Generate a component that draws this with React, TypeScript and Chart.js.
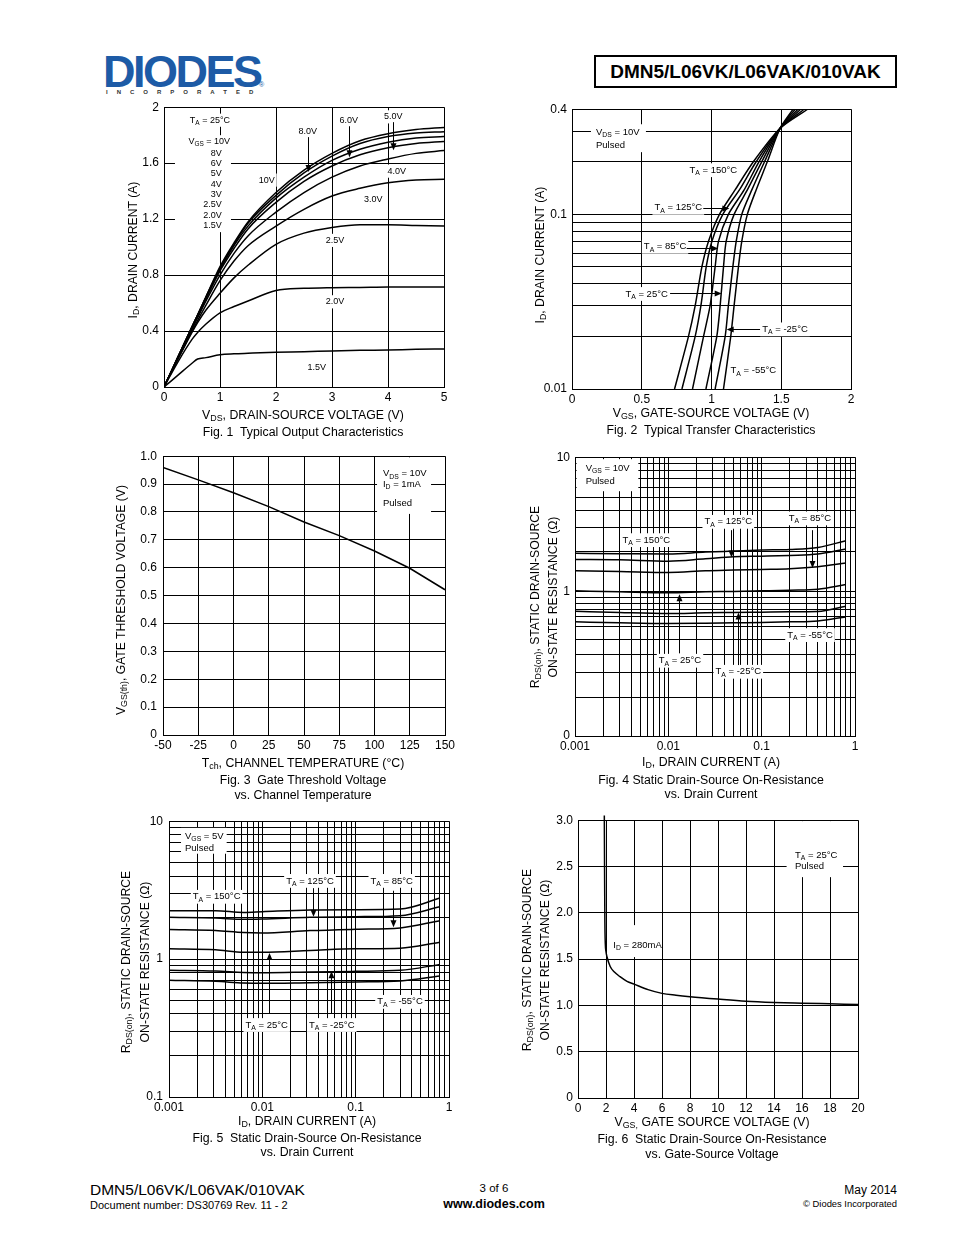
import React, { useEffect, useRef } from 'react';
import { Chart, registerables } from 'chart.js';

Chart.register(...registerables);

const FONT = '"Liberation Sans", Arial, Helvetica, sans-serif';
Chart.defaults.font.family = FONT;

// ---------------- Fig. 1 Typical Output Characteristics ----------------
const FIG1_VDS = [0, 0.25, 0.5, 0.6, 0.75, 1, 1.25, 1.5, 2, 2.5, 3, 3.5, 4, 4.5, 5];
const FIG1_ID_VGS10 = [0, 0.215, 0.43, 0.515, 0.645, 0.86, 1.03, 1.18, 1.39, 1.55, 1.67, 1.76, 1.81, 1.84, 1.855];
const FIG1_ID_VGS8 = [0, 0.215, 0.43, 0.515, 0.645, 0.85, 1.02, 1.17, 1.37, 1.53, 1.65, 1.74, 1.79, 1.815, 1.825];
const FIG1_ID_VGS6 = [0, 0.215, 0.43, 0.515, 0.64, 0.84, 1.01, 1.15, 1.35, 1.5, 1.62, 1.7, 1.75, 1.78, 1.79];
const FIG1_ID_VGS5 = [0, 0.21, 0.42, 0.505, 0.63, 0.83, 0.99, 1.13, 1.32, 1.47, 1.58, 1.66, 1.71, 1.74, 1.755];
const FIG1_ID_VGS4 = [0, 0.21, 0.415, 0.495, 0.615, 0.8, 0.955, 1.08, 1.25, 1.39, 1.5, 1.58, 1.63, 1.67, 1.69];
const FIG1_ID_VGS3 = [0, 0.2, 0.4, 0.475, 0.585, 0.76, 0.9, 1.01, 1.15, 1.27, 1.365, 1.42, 1.46, 1.48, 1.485];
const FIG1_ID_VGS25 = [0, 0.2, 0.39, 0.46, 0.55, 0.67, 0.78, 0.87, 1.02, 1.1, 1.14, 1.16, 1.16, 1.155, 1.15];
const FIG1_ID_VGS20 = [0, 0.18, 0.34, 0.39, 0.45, 0.53, 0.575, 0.615, 0.69, 0.705, 0.71, 0.712, 0.715, 0.715, 0.715];
const FIG1_ID_VGS15 = [0, 0.085, 0.17, 0.2, 0.21, 0.23, 0.237, 0.241, 0.248, 0.252, 0.258, 0.262, 0.265, 0.269, 0.272];
const FIG1_X_TICKS = [0, 1, 2, 3, 4, 5];
const FIG1_X_LABELS = ['0', '1', '2', '3', '4', '5'];
const FIG1_Y_TICKS = [0, 0.4, 0.8, 1.2, 1.6, 2];
const FIG1_Y_LABELS = ['0', '0.4', '0.8', '1.2', '1.6', '2'];
const FIG1_LIST = ['8V', '6V', '5V', '4V', '3V', '2.5V', '2.0V', '1.5V'];
const FIG1_LIST_Y = [1.668, 1.596, 1.523, 1.449, 1.376, 1.302, 1.229, 1.155];

// ---------------- Fig. 2 Typical Transfer Characteristics ----------------
const FIG2_ID = [0.01, 0.02, 0.03, 0.05, 0.07, 0.1, 0.138, 0.2, 0.311, 0.4];
const FIG2_VGS_150 = [0.735, 0.835, 0.883, 0.931, 0.978, 1.057, 1.169, 1.3, 1.492, 1.69];
const FIG2_VGS_125 = [0.788, 0.883, 0.924, 0.962, 1.0025, 1.081, 1.2, 1.32, 1.492, 1.665];
const FIG2_VGS_85 = [0.864, 0.943, 0.99, 1.026, 1.05, 1.121, 1.234, 1.34, 1.492, 1.64];
const FIG2_VGS_25 = [0.96, 1.038, 1.062, 1.086, 1.105, 1.162, 1.257, 1.36, 1.492, 1.62];
const FIG2_VGS_M25 = [1.026, 1.098, 1.121, 1.153, 1.177, 1.217, 1.289, 1.38, 1.492, 1.6];
const FIG2_VGS_M55 = [1.086, 1.138, 1.162, 1.193, 1.217, 1.257, 1.32, 1.4, 1.492, 1.585];
const FIG2_X_TICKS = [0, 0.5, 1, 1.5, 2];
const FIG2_X_LABELS = ['0', '0.5', '1', '1.5', '2'];
const FIG2_Y_GRID = [0.01, 0.02, 0.03, 0.04, 0.05, 0.06, 0.07, 0.08, 0.09, 0.1, 0.2, 0.3, 0.4];
const FIG2_Y_LABELED: [number, string][] = [[0.01, '0.01'], [0.1, '0.1'], [0.4, '0.4']];

// ---------------- Fig. 3 Gate Threshold Voltage ----------------
const FIG3_TCH = [-50, -25, 0, 25, 50, 75, 100, 125, 150];
const FIG3_VTH = [0.96, 0.915, 0.869, 0.819, 0.764, 0.715, 0.66, 0.598, 0.521];
const FIG3_X_TICKS = [-50, -25, 0, 25, 50, 75, 100, 125, 150];
const FIG3_X_LABELS = ['-50', '-25', '0', '25', '50', '75', '100', '125', '150'];
const FIG3_Y_TICKS = [0, 0.1, 0.2, 0.3, 0.4, 0.5, 0.6, 0.7, 0.8, 0.9, 1];
const FIG3_Y_LABELS = ['0', '0.1', '0.2', '0.3', '0.4', '0.5', '0.6', '0.7', '0.8', '0.9', '1.0'];

// ---------------- Fig. 4 RDS(on) vs ID, VGS = 10V ----------------
const FIG4_ID = [0.001, 0.003, 0.01, 0.025, 0.05, 0.1, 0.2, 0.4, 0.8];
const FIG4_R_150 = [1.93, 1.918, 1.907, 1.973, 2.007, 2.042, 2.066, 2.137, 2.397];
const FIG4_R_125 = [1.74, 1.73, 1.69, 1.76, 1.82, 1.84, 1.865, 1.907, 2.08];
const FIG4_R_85 = [1.433, 1.417, 1.393, 1.433, 1.45, 1.466, 1.483, 1.535, 1.64];
const FIG4_R_25 = [1.017, 1.0, 0.983, 1.0, 1.006, 1.017, 1.029, 1.047, 1.134];
const FIG4_R_M25 = [0.718, 0.702, 0.69, 0.698, 0.702, 0.706, 0.71, 0.714, 0.782];
const FIG4_R_M55 = [0.598, 0.588, 0.581, 0.584, 0.588, 0.591, 0.598, 0.608, 0.651];
const FIG4_Y_MIN = 0.0849;
const FIG4_Y_GRID = [0.0849, 0.165, 0.25, 0.345, 0.44, 0.555, 0.65, 0.745, 0.825, 0.915, 1, 2, 3, 4, 5, 6, 7, 8, 9, 10];
const FIG4_Y_LABELED: [number, string][] = [[0.0849, '0'], [1, '1'], [10, '10']];

// ---------------- Fig. 5 RDS(on) vs ID, VGS = 5V ----------------
const FIG5_ID = [0.001, 0.00315, 0.0063, 0.01, 0.0324, 0.1, 0.3, 0.8];
const FIG5_R_150 = [2.244, 2.244, 2.18, 2.206, 2.27, 2.28, 2.306, 2.77];
const FIG5_R_125 = [2.009, 1.986, 1.943, 1.954, 2.009, 2.031, 2.065, 2.397];
const FIG5_R_85 = [1.636, 1.609, 1.557, 1.548, 1.609, 1.645, 1.683, 1.9];
const FIG5_R_25 = [1.187, 1.168, 1.123, 1.123, 1.155, 1.187, 1.2, 1.326];
const FIG5_R_M25 = [0.829, 0.819, 0.801, 0.797, 0.806, 0.815, 0.829, 0.915];
const FIG5_R_M55 = [0.702, 0.69, 0.671, 0.667, 0.675, 0.683, 0.694, 0.754];
const FIG5_Y_GRID = [0.1, 0.2, 0.3, 0.4, 0.5, 0.6, 0.7, 0.8, 0.9, 1, 2, 3, 4, 5, 6, 7, 8, 9, 10];
const FIG5_Y_LABELED: [number, string][] = [[0.1, '0.1'], [1, '1'], [10, '10']];

// shared log x axis for Fig. 4 and Fig. 5
const FIG45_X_GRID = [
  0.001, 0.002, 0.003, 0.004, 0.005, 0.006, 0.007, 0.008, 0.009,
  0.01, 0.02, 0.03, 0.04, 0.05, 0.06, 0.07, 0.08, 0.09,
  0.1, 0.2, 0.3, 0.4, 0.5, 0.6, 0.7, 0.8, 0.9, 1,
];
const FIG45_X_LABELED: [number, string][] = [[0.001, '0.001'], [0.01, '0.01'], [0.1, '0.1'], [1, '1']];

// ---------------- Fig. 6 RDS(on) vs VGS ----------------
const FIG6_VGS = [1.88, 1.9, 1.92, 1.95, 2.0, 2.07, 2.3, 2.6, 3, 3.5, 4, 5, 6, 7, 8, 10, 12, 14, 16, 18, 20];
const FIG6_R = [3.05, 2.4, 1.9, 1.67, 1.58, 1.525, 1.42, 1.36, 1.31, 1.26, 1.23, 1.17, 1.13, 1.11, 1.094, 1.068, 1.045, 1.032, 1.024, 1.017, 1.01];
const FIG6_X_TICKS = [0, 2, 4, 6, 8, 10, 12, 14, 16, 18, 20];
const FIG6_X_LABELS = ['0', '2', '4', '6', '8', '10', '12', '14', '16', '18', '20'];
const FIG6_Y_TICKS = [0, 0.5, 1, 1.5, 2, 2.5, 3];
const FIG6_Y_LABELS = ['0', '0.5', '1.0', '1.5', '2.0', '2.5', '3.0'];

// ---------------- annotations (data coordinates) ----------------
type Note =
  | { t: 'text'; x: number; y: number; s: string; align?: 'left' | 'right' | 'center'; bg?: boolean }
  | { t: 'box'; x1: number; y1: number; x2: number; y2: number }
  | { t: 'arrow'; x1: number; y1: number; x2: number; y2: number };

const FIG1_NOTES: Note[] = [
  { t: 'text', x: 1.179, y: 1.907, s: 'T_{A} = 25°C', align: 'right', bg: true },
  { t: 'box', x1: 0.196, y1: 1.107, x2: 1.196, y2: 1.8 },
  { t: 'text', x: 1.179, y: 1.757, s: 'V_{GS} = 10V', align: 'right' },
  ...FIG1_LIST.map((s, i) => ({ t: 'text' as const, x: 1.03, y: FIG1_LIST_Y[i], s, align: 'right' as const })),
  { t: 'text', x: 1.834, y: 1.479, s: '10V', bg: true },
  { t: 'text', x: 2.566, y: 1.824, s: '8.0V', bg: true },
  { t: 'arrow', x1: 2.566, y1: 1.786, x2: 2.566, y2: 1.536 },
  { t: 'text', x: 3.298, y: 1.902, s: '6.0V', bg: true },
  { t: 'arrow', x1: 3.298, y1: 1.864, x2: 3.298, y2: 1.643 },
  { t: 'text', x: 4.095, y: 1.931, s: '5.0V', bg: true },
  { t: 'arrow', x1: 4.095, y1: 1.893, x2: 4.095, y2: 1.693 },
  { t: 'text', x: 4.155, y: 1.543, s: '4.0V', bg: true },
  { t: 'text', x: 3.738, y: 1.343, s: '3.0V', bg: true },
  { t: 'text', x: 3.054, y: 1.048, s: '2.5V', bg: true },
  { t: 'text', x: 3.054, y: 0.609, s: '2.0V', bg: true },
  { t: 'text', x: 2.727, y: 0.138, s: '1.5V', bg: true },
];

const FIG2_NOTES: Note[] = [
  { t: 'box', x1: 0.136, y1: 0.227, x2: 0.53, y2: 0.328 },
  { t: 'text', x: 0.172, y: 0.294, s: 'V_{DS} = 10V', align: 'left' },
  { t: 'text', x: 0.172, y: 0.249, s: 'Pulsed', align: 'left' },
  { t: 'text', x: 1.013, y: 0.179, s: 'T_{A} = 150°C', bg: true },
  { t: 'text', x: 0.762, y: 0.109, s: 'T_{A} = 125°C', bg: true },
  { t: 'arrow', x1: 0.941, y1: 0.109, x2: 1.128, y2: 0.109 },
  { t: 'text', x: 0.667, y: 0.0652, s: 'T_{A} = 85°C', bg: true },
  { t: 'arrow', x1: 0.822, y1: 0.0638, x2: 1.049, y2: 0.0638 },
  { t: 'text', x: 0.535, y: 0.035, s: 'T_{A} = 25°C', bg: true },
  { t: 'arrow', x1: 0.703, y1: 0.0353, x2: 1.073, y2: 0.0353 },
  { t: 'text', x: 1.527, y: 0.02195, s: 'T_{A} = -25°C', bg: true },
  { t: 'arrow', x1: 1.348, y1: 0.02195, x2: 1.109, y2: 0.02195 },
  { t: 'text', x: 1.3, y: 0.01273, s: 'T_{A} = -55°C', bg: true },
];

const FIG3_NOTES: Note[] = [
  { t: 'box', x1: 101.8, y1: 0.793, x2: 140.1, y2: 0.996 },
  { t: 'text', x: 106, y: 0.937, s: 'V_{DS} = 10V', align: 'left' },
  { t: 'text', x: 106, y: 0.899, s: 'I_{D} = 1mA', align: 'left' },
  { t: 'text', x: 106, y: 0.83, s: 'Pulsed', align: 'left' },
];

const FIG4_NOTES: Note[] = [
  { t: 'box', x1: 0.00104, y1: 5.59, x2: 0.00477, y2: 9.67 },
  { t: 'text', x: 0.0013, y: 8.24, s: 'V_{GS} = 10V', align: 'left' },
  { t: 'text', x: 0.0013, y: 6.63, s: 'Pulsed', align: 'left' },
  { t: 'text', x: 0.0058, y: 2.42, s: 'T_{A} = 150°C', bg: true },
  { t: 'text', x: 0.0439, y: 3.31, s: 'T_{A} = 125°C', bg: true },
  { t: 'arrow', x1: 0.0469, y1: 2.87, x2: 0.0469, y2: 1.8 },
  { t: 'text', x: 0.3296, y: 3.51, s: 'T_{A} = 85°C', bg: true },
  { t: 'arrow', x1: 0.3437, y1: 2.87, x2: 0.3437, y2: 1.5 },
  { t: 'text', x: 0.01334, y: 0.3075, s: 'T_{A} = 25°C', bg: true },
  { t: 'arrow', x1: 0.0131, y1: 0.349, x2: 0.0131, y2: 0.961 },
  { t: 'text', x: 0.0562, y: 0.2547, s: 'T_{A} = -25°C', bg: true },
  { t: 'arrow', x1: 0.0554, y1: 0.2856, x2: 0.0554, y2: 0.703 },
  { t: 'text', x: 0.3296, y: 0.477, s: 'T_{A} = -55°C', bg: true },
];

const FIG5_NOTES: Note[] = [
  { t: 'box', x1: 0.001345, y1: 5.81, x2: 0.004148, y2: 8.945 },
  { t: 'text', x: 0.001484, y: 7.8, s: 'V_{GS} = 5V', align: 'left' },
  { t: 'text', x: 0.001484, y: 6.31, s: 'Pulsed', align: 'left' },
  { t: 'text', x: 0.0324, y: 3.69, s: 'T_{A} = 125°C', bg: true },
  { t: 'arrow', x1: 0.03516, y1: 3.27, x2: 0.03516, y2: 2.032 },
  { t: 'text', x: 0.2433, y: 3.69, s: 'T_{A} = 85°C', bg: true },
  { t: 'arrow', x1: 0.2495, y1: 3.13, x2: 0.2495, y2: 1.701 },
  { t: 'text', x: 0.00324, y: 2.83, s: 'T_{A} = 150°C', bg: true },
  { t: 'text', x: 0.01114, y: 0.3327, s: 'T_{A} = 25°C', bg: true },
  { t: 'arrow', x1: 0.01179, y1: 0.404, x2: 0.01179, y2: 1.105 },
  { t: 'text', x: 0.0554, y: 0.3327, s: 'T_{A} = -25°C', bg: true },
  { t: 'arrow', x1: 0.0544, y1: 0.404, x2: 0.0544, y2: 0.815 },
  { t: 'text', x: 0.2985, y: 0.4897, s: 'T_{A} = -55°C', bg: true },
];

const FIG6_NOTES: Note[] = [
  { t: 'box', x1: 14.9, y1: 2.385, x2: 18.93, y2: 2.99 },
  { t: 'text', x: 15.5, y: 2.622, s: 'T_{A} = 25°C', align: 'left' },
  { t: 'text', x: 15.5, y: 2.496, s: 'Pulsed', align: 'left' },
  { t: 'box', x1: 2.43, y1: 1.522, x2: 5.86, y2: 1.867 },
  { t: 'text', x: 2.52, y: 1.651, s: 'I_{D} = 280mA', align: 'left' },
];

// ---------------- helpers ----------------
function splitSub(s: string) {
  const out: { t: string; sub: boolean; w?: number }[] = [];
  const re = /_\{([^}]*)\}/g;
  let last = 0;
  let m: RegExpExecArray | null;
  while ((m = re.exec(s))) {
    if (m.index > last) out.push({ t: s.slice(last, m.index), sub: false });
    out.push({ t: m[1], sub: true });
    last = re.lastIndex;
  }
  if (last < s.length) out.push({ t: s.slice(last), sub: false });
  return out;
}

function drawRich(ctx: CanvasRenderingContext2D, s: string, x: number, y: number, align: string, size: number, bg: boolean) {
  const parts = splitSub(s);
  const subSize = size * 0.72;
  let w = 0;
  for (const p of parts) {
    ctx.font = `${p.sub ? subSize : size}px ${FONT}`;
    p.w = ctx.measureText(p.t).width;
    w += p.w;
  }
  let x0 = align === 'left' ? x : align === 'right' ? x - w : x - w / 2;
  if (bg) {
    ctx.fillStyle = '#fff';
    ctx.fillRect(x0 - 2, y - size * 0.62 - 1, w + 4, size * 1.24 + 2);
  }
  ctx.fillStyle = '#000';
  ctx.textAlign = 'left';
  ctx.textBaseline = 'middle';
  for (const p of parts) {
    ctx.font = `${p.sub ? subSize : size}px ${FONT}`;
    ctx.fillText(p.t, x0, p.sub ? y + size * 0.32 : y);
    x0 += p.w || 0;
  }
}

function drawArrow(ctx: CanvasRenderingContext2D, x1: number, y1: number, x2: number, y2: number) {
  const a = Math.atan2(y2 - y1, x2 - x1);
  const L = 7;
  const W = 3;
  const c = Math.cos(a);
  const s = Math.sin(a);
  ctx.strokeStyle = '#000';
  ctx.fillStyle = '#000';
  ctx.lineWidth = 1;
  ctx.beginPath();
  ctx.moveTo(x1, y1);
  ctx.lineTo(x2 - c * L * 0.8, y2 - s * L * 0.8);
  ctx.stroke();
  ctx.beginPath();
  ctx.moveTo(x2, y2);
  ctx.lineTo(x2 - L * c + W * s, y2 - L * s - W * c);
  ctx.lineTo(x2 - L * c - W * s, y2 - L * s + W * c);
  ctx.closePath();
  ctx.fill();
}

function notesPlugin(notes: Note[], size: number) {
  return {
    id: 'notes',
    beforeDatasetsDraw(chart: any) {
      const ctx = chart.ctx as CanvasRenderingContext2D;
      const xs = chart.scales.x;
      const ys = chart.scales.y;
      ctx.save();
      for (const n of notes) {
        if (n.t === 'box') {
          const a = xs.getPixelForValue(n.x1);
          const b = xs.getPixelForValue(n.x2);
          const c = ys.getPixelForValue(n.y1);
          const d = ys.getPixelForValue(n.y2);
          ctx.fillStyle = '#fff';
          ctx.fillRect(Math.min(a, b), Math.min(c, d), Math.abs(b - a), Math.abs(d - c));
        }
      }
      for (const n of notes) {
        if (n.t === 'text') {
          drawRich(ctx, n.s, xs.getPixelForValue(n.x), ys.getPixelForValue(n.y), n.align || 'center', size, !!n.bg);
        }
      }
      ctx.restore();
    },
    afterDatasetsDraw(chart: any) {
      const ctx = chart.ctx as CanvasRenderingContext2D;
      const xs = chart.scales.x;
      const ys = chart.scales.y;
      ctx.save();
      for (const n of notes) {
        if (n.t === 'arrow') {
          const px1 = xs.getPixelForValue(n.x1);
          const px2 = xs.getPixelForValue(n.x2);
          const py1 = ys.getPixelForValue(n.y1);
          const py2 = ys.getPixelForValue(n.y2);
          const vert = Math.abs(px1 - px2) < 0.5;
          const horiz = Math.abs(py1 - py2) < 0.5;
          const ax = vert ? Math.round(px1) + 0.5 : px1;
          const ay = horiz ? Math.round(py1) + 0.5 : py1;
          drawArrow(ctx, ax, ay, vert ? ax : px2, horiz ? ay : py2);
        }
      }
      ctx.restore();
    },
  };
}

function series(xs: number[], ys: number[], extra: any = {}) {
  return {
    data: xs.map((x, i) => ({ x, y: ys[i] })),
    borderColor: '#000',
    backgroundColor: '#000',
    borderWidth: 1.5,
    pointRadius: 0,
    showLine: true,
    fill: false,
    cubicInterpolationMode: 'monotone',
    ...extra,
  };
}

function zipLabels(ticks: number[], labels: string[]): [number, string][] {
  return ticks.map((t, i) => [t, labels[i]]);
}

function axis(type: string, min: number, max: number, ticks: number[], labeled: [number, string][], pad: number) {
  return {
    type,
    min,
    max,
    afterBuildTicks: (s: any) => {
      s.ticks = ticks.map((v) => ({ value: v }));
    },
    grid: { color: '#000', lineWidth: 1, drawTicks: false },
    border: { display: true, color: '#000', width: 1 },
    ticks: {
      autoSkip: false,
      maxRotation: 0,
      minRotation: 0,
      padding: pad,
      color: '#000',
      font: { family: FONT, size: 12 },
      callback: (v: number) => {
        const p = labeled.find(([k]) => Math.abs(k - v) <= 1e-9 * Math.max(1, Math.abs(k)));
        return p ? p[1] : '';
      },
    },
  };
}

function makeConfig(datasets: any[], x: any, y: any, notes: Note[], noteSize: number) {
  return {
    type: 'scatter',
    data: { datasets },
    options: {
      animation: false,
      responsive: false,
      devicePixelRatio: 1,
      events: [],
      plugins: { legend: { display: false }, tooltip: { enabled: false }, title: { display: false } },
      scales: { x, y },
    },
    plugins: [notesPlugin(notes, noteSize)],
  };
}

const YW = 46;
const XH = 24;
const PT = 12;
const PR = 14;

function ChartBox({ area, make }: { area: number[]; make: () => any }) {
  const ref = useRef<HTMLCanvasElement | null>(null);
  const [L, T, R, B] = area;
  const w = R - L + YW + PR;
  const h = B - T + PT + XH;
  useEffect(() => {
    const cfg = make();
    cfg.options.layout = { padding: { left: 0, top: PT, right: PR, bottom: 0 } };
    cfg.options.scales.x.afterFit = (s: any) => {
      s.height = XH;
    };
    cfg.options.scales.y.afterFit = (s: any) => {
      s.width = YW;
    };
    const chart = new Chart(ref.current as HTMLCanvasElement, cfg as any);
    return () => chart.destroy();
  }, []);
  return (
    <canvas
      ref={ref}
      width={w}
      height={h}
      style={{ position: 'absolute', left: L - YW, top: T - PT, width: w, height: h }}
    />
  );
}

// ---------------- chart builders ----------------
const fig1 = () =>
  makeConfig(
    [FIG1_ID_VGS10, FIG1_ID_VGS8, FIG1_ID_VGS6, FIG1_ID_VGS5, FIG1_ID_VGS4, FIG1_ID_VGS3, FIG1_ID_VGS25, FIG1_ID_VGS20, FIG1_ID_VGS15].map((ys) =>
      series(FIG1_VDS, ys)
    ),
    axis('linear', 0, 5, FIG1_X_TICKS, zipLabels(FIG1_X_TICKS, FIG1_X_LABELS), 3),
    axis('linear', 0, 2, FIG1_Y_TICKS, zipLabels(FIG1_Y_TICKS, FIG1_Y_LABELS), 5),
    FIG1_NOTES,
    9
  );

const fig2 = () =>
  makeConfig(
    [FIG2_VGS_150, FIG2_VGS_125, FIG2_VGS_85, FIG2_VGS_25, FIG2_VGS_M25, FIG2_VGS_M55].map((xs) =>
      series(xs, FIG2_ID, { cubicInterpolationMode: 'default', tension: 0.25 })
    ),
    axis('linear', 0, 2, FIG2_X_TICKS, zipLabels(FIG2_X_TICKS, FIG2_X_LABELS), 3),
    axis('logarithmic', 0.01, 0.4, FIG2_Y_GRID, FIG2_Y_LABELED, 5),
    FIG2_NOTES,
    9.5
  );

const fig3 = () =>
  makeConfig(
    [series(FIG3_TCH, FIG3_VTH, { cubicInterpolationMode: 'default', tension: 0 })],
    axis('linear', -50, 150, FIG3_X_TICKS, zipLabels(FIG3_X_TICKS, FIG3_X_LABELS), 3),
    axis('linear', 0, 1, FIG3_Y_TICKS, zipLabels(FIG3_Y_TICKS, FIG3_Y_LABELS), 6),
    FIG3_NOTES,
    9.5
  );

const fig4 = () =>
  makeConfig(
    [FIG4_R_150, FIG4_R_125, FIG4_R_85, FIG4_R_25, FIG4_R_M25, FIG4_R_M55].map((ys) => series(FIG4_ID, ys)),
    axis('logarithmic', 0.001, 1, FIG45_X_GRID, FIG45_X_LABELED, 3),
    axis('logarithmic', FIG4_Y_MIN, 10, FIG4_Y_GRID, FIG4_Y_LABELED, 5),
    FIG4_NOTES,
    9.5
  );

const fig5 = () =>
  makeConfig(
    [FIG5_R_150, FIG5_R_125, FIG5_R_85, FIG5_R_25, FIG5_R_M25, FIG5_R_M55].map((ys) => series(FIG5_ID, ys)),
    axis('logarithmic', 0.001, 1, FIG45_X_GRID, FIG45_X_LABELED, 3),
    axis('logarithmic', 0.1, 10, FIG5_Y_GRID, FIG5_Y_LABELED, 6),
    FIG5_NOTES,
    9.5
  );

const fig6 = () =>
  makeConfig(
    [series(FIG6_VGS, FIG6_R, { clip: 8 })],
    axis('linear', 0, 20, FIG6_X_TICKS, zipLabels(FIG6_X_TICKS, FIG6_X_LABELS), 3),
    axis('linear', 0, 3, FIG6_Y_TICKS, zipLabels(FIG6_Y_TICKS, FIG6_Y_LABELS), 5),
    FIG6_NOTES,
    9.5
  );

// ---------------- HTML text helpers ----------------
const Sub = ({ children }: any) => (
  <span style={{ fontSize: '0.72em', verticalAlign: '-0.28em', lineHeight: 0 }}>{children}</span>
);

function Txt({ x, y, size = 12.3, align = 'center', bold = false, children, style = {} }: any) {
  const tx = align === 'center' ? '-50%' : align === 'right' ? '-100%' : '0';
  return (
    <div
      style={{
        position: 'absolute',
        left: x,
        top: y,
        transform: `translate(${tx}, -50%)`,
        fontFamily: FONT,
        fontSize: size,
        fontWeight: bold ? 'bold' : 'normal',
        lineHeight: 1,
        whiteSpace: 'pre',
        color: '#000',
        ...style,
      }}
    >
      {children}
    </div>
  );
}

function VTxt({ x, y, size = 12.2, children }: any) {
  return (
    <div
      style={{
        position: 'absolute',
        left: x,
        top: y,
        transform: 'translate(-50%, -50%) rotate(-90deg)',
        fontFamily: FONT,
        fontSize: size,
        lineHeight: 1,
        whiteSpace: 'pre',
        color: '#000',
      }}
    >
      {children}
    </div>
  );
}

export default function App() {
  return (
    <div
      style={{
        position: 'absolute',
        left: 0,
        top: 0,
        width: 954,
        height: 1235,
        background: '#fff',
        overflow: 'hidden',
        fontFamily: FONT,
      }}
    >
      {/* header */}
      <div
        style={{
          position: 'absolute',
          left: 103,
          top: 49,
          fontFamily: FONT,
          fontSize: 45,
          fontWeight: 'bold',
          letterSpacing: -2.5,
          lineHeight: 1,
          color: '#1d5ba6',
        }}
      >
        DIODES
      </div>
      <div style={{ position: 'absolute', left: 259, top: 81, fontSize: 7, fontFamily: FONT, color: '#1d5ba6', lineHeight: 1 }}>®</div>
      <div
        style={{
          position: 'absolute',
          left: 106,
          top: 89,
          fontSize: 6,
          fontWeight: 'bold',
          letterSpacing: 9,
          fontFamily: FONT,
          color: '#333',
          lineHeight: 1,
          whiteSpace: 'pre',
        }}
      >
        INCORPORATED
      </div>
      <div
        style={{
          position: 'absolute',
          left: 594,
          top: 55,
          width: 303,
          height: 33,
          boxSizing: 'border-box',
          border: '2px solid #000',
          display: 'flex',
          alignItems: 'center',
          justifyContent: 'center',
          fontFamily: FONT,
          fontSize: 19,
          fontWeight: 'bold',
          color: '#000',
        }}
      >
        DMN5/L06VK/L06VAK/010VAK
      </div>

      {/* charts */}
      <ChartBox area={[164, 107, 444, 387]} make={fig1} />
      <ChartBox area={[572, 109, 851, 389]} make={fig2} />
      <ChartBox area={[163, 455, 445, 735]} make={fig3} />
      <ChartBox area={[575, 457, 855, 736]} make={fig4} />
      <ChartBox area={[169, 820, 449, 1097]} make={fig5} />
      <ChartBox area={[578, 820, 858, 1098]} make={fig6} />

      {/* Fig 1 texts */}
      <VTxt x={133} y={250}>
        I<Sub>D</Sub>, DRAIN CURRENT (A)
      </VTxt>
      <Txt x={303} y={415}>
        V<Sub>DS</Sub>, DRAIN-SOURCE VOLTAGE (V)
      </Txt>
      <Txt x={303} y={432}>{'Fig. 1  Typical Output Characteristics'}</Txt>

      {/* Fig 2 texts */}
      <VTxt x={540} y={255}>
        I<Sub>D</Sub>, DRAIN CURRENT (A)
      </VTxt>
      <Txt x={711} y={413}>
        V<Sub>GS</Sub>, GATE-SOURCE VOLTAGE (V)
      </Txt>
      <Txt x={711} y={430}>{'Fig. 2  Typical Transfer Characteristics'}</Txt>

      {/* Fig 3 texts */}
      <VTxt x={121} y={600}>
        V<Sub>GS(th)</Sub>, GATE THRESHOLD VOLTAGE (V)
      </VTxt>
      <Txt x={303} y={763}>
        T<Sub>ch</Sub>, CHANNEL TEMPERATURE (°C)
      </Txt>
      <Txt x={303} y={780}>{'Fig. 3  Gate Threshold Voltage'}</Txt>
      <Txt x={303} y={795}>vs. Channel Temperature</Txt>

      {/* Fig 4 texts */}
      <VTxt x={535} y={597}>
        R<Sub>DS(on)</Sub>, STATIC DRAIN-SOURCE
      </VTxt>
      <VTxt x={553} y={597}>ON-STATE RESISTANCE (Ω)</VTxt>
      <Txt x={711} y={762}>
        I<Sub>D</Sub>, DRAIN CURRENT (A)
      </Txt>
      <Txt x={711} y={780}>Fig. 4 Static Drain-Source On-Resistance</Txt>
      <Txt x={711} y={794}>vs. Drain Current</Txt>

      {/* Fig 5 texts */}
      <VTxt x={126} y={962}>
        R<Sub>DS(on)</Sub>, STATIC DRAIN-SOURCE
      </VTxt>
      <VTxt x={145} y={962}>ON-STATE RESISTANCE (Ω)</VTxt>
      <Txt x={307} y={1121}>
        I<Sub>D</Sub>, DRAIN CURRENT (A)
      </Txt>
      <Txt x={307} y={1138}>{'Fig. 5  Static Drain-Source On-Resistance'}</Txt>
      <Txt x={307} y={1152}>vs. Drain Current</Txt>

      {/* Fig 6 texts */}
      <VTxt x={527} y={960}>
        R<Sub>DS(on)</Sub>, STATIC DRAIN-SOURCE
      </VTxt>
      <VTxt x={545} y={960}>ON-STATE RESISTANCE (Ω)</VTxt>
      <Txt x={712} y={1122}>
        V<Sub>GS,</Sub> GATE SOURCE VOLTAGE (V)
      </Txt>
      <Txt x={712} y={1139}>{'Fig. 6  Static Drain-Source On-Resistance'}</Txt>
      <Txt x={712} y={1154}>vs. Gate-Source Voltage</Txt>

      {/* footer */}
      <Txt x={90} y={1190} size={15.5} align="left">
        DMN5/L06VK/L06VAK/010VAK
      </Txt>
      <Txt x={90} y={1205} size={11} align="left">
        Document number: DS30769 Rev. 11 - 2
      </Txt>
      <Txt x={494} y={1189} size={11.5}>
        3 of 6
      </Txt>
      <Txt x={494} y={1204} size={12.5} bold>
        www.diodes.com
      </Txt>
      <Txt x={897} y={1190} size={12} align="right">
        May 2014
      </Txt>
      <Txt x={897} y={1204} size={9.4} align="right">
        © Diodes Incorporated
      </Txt>
    </div>
  );
}
